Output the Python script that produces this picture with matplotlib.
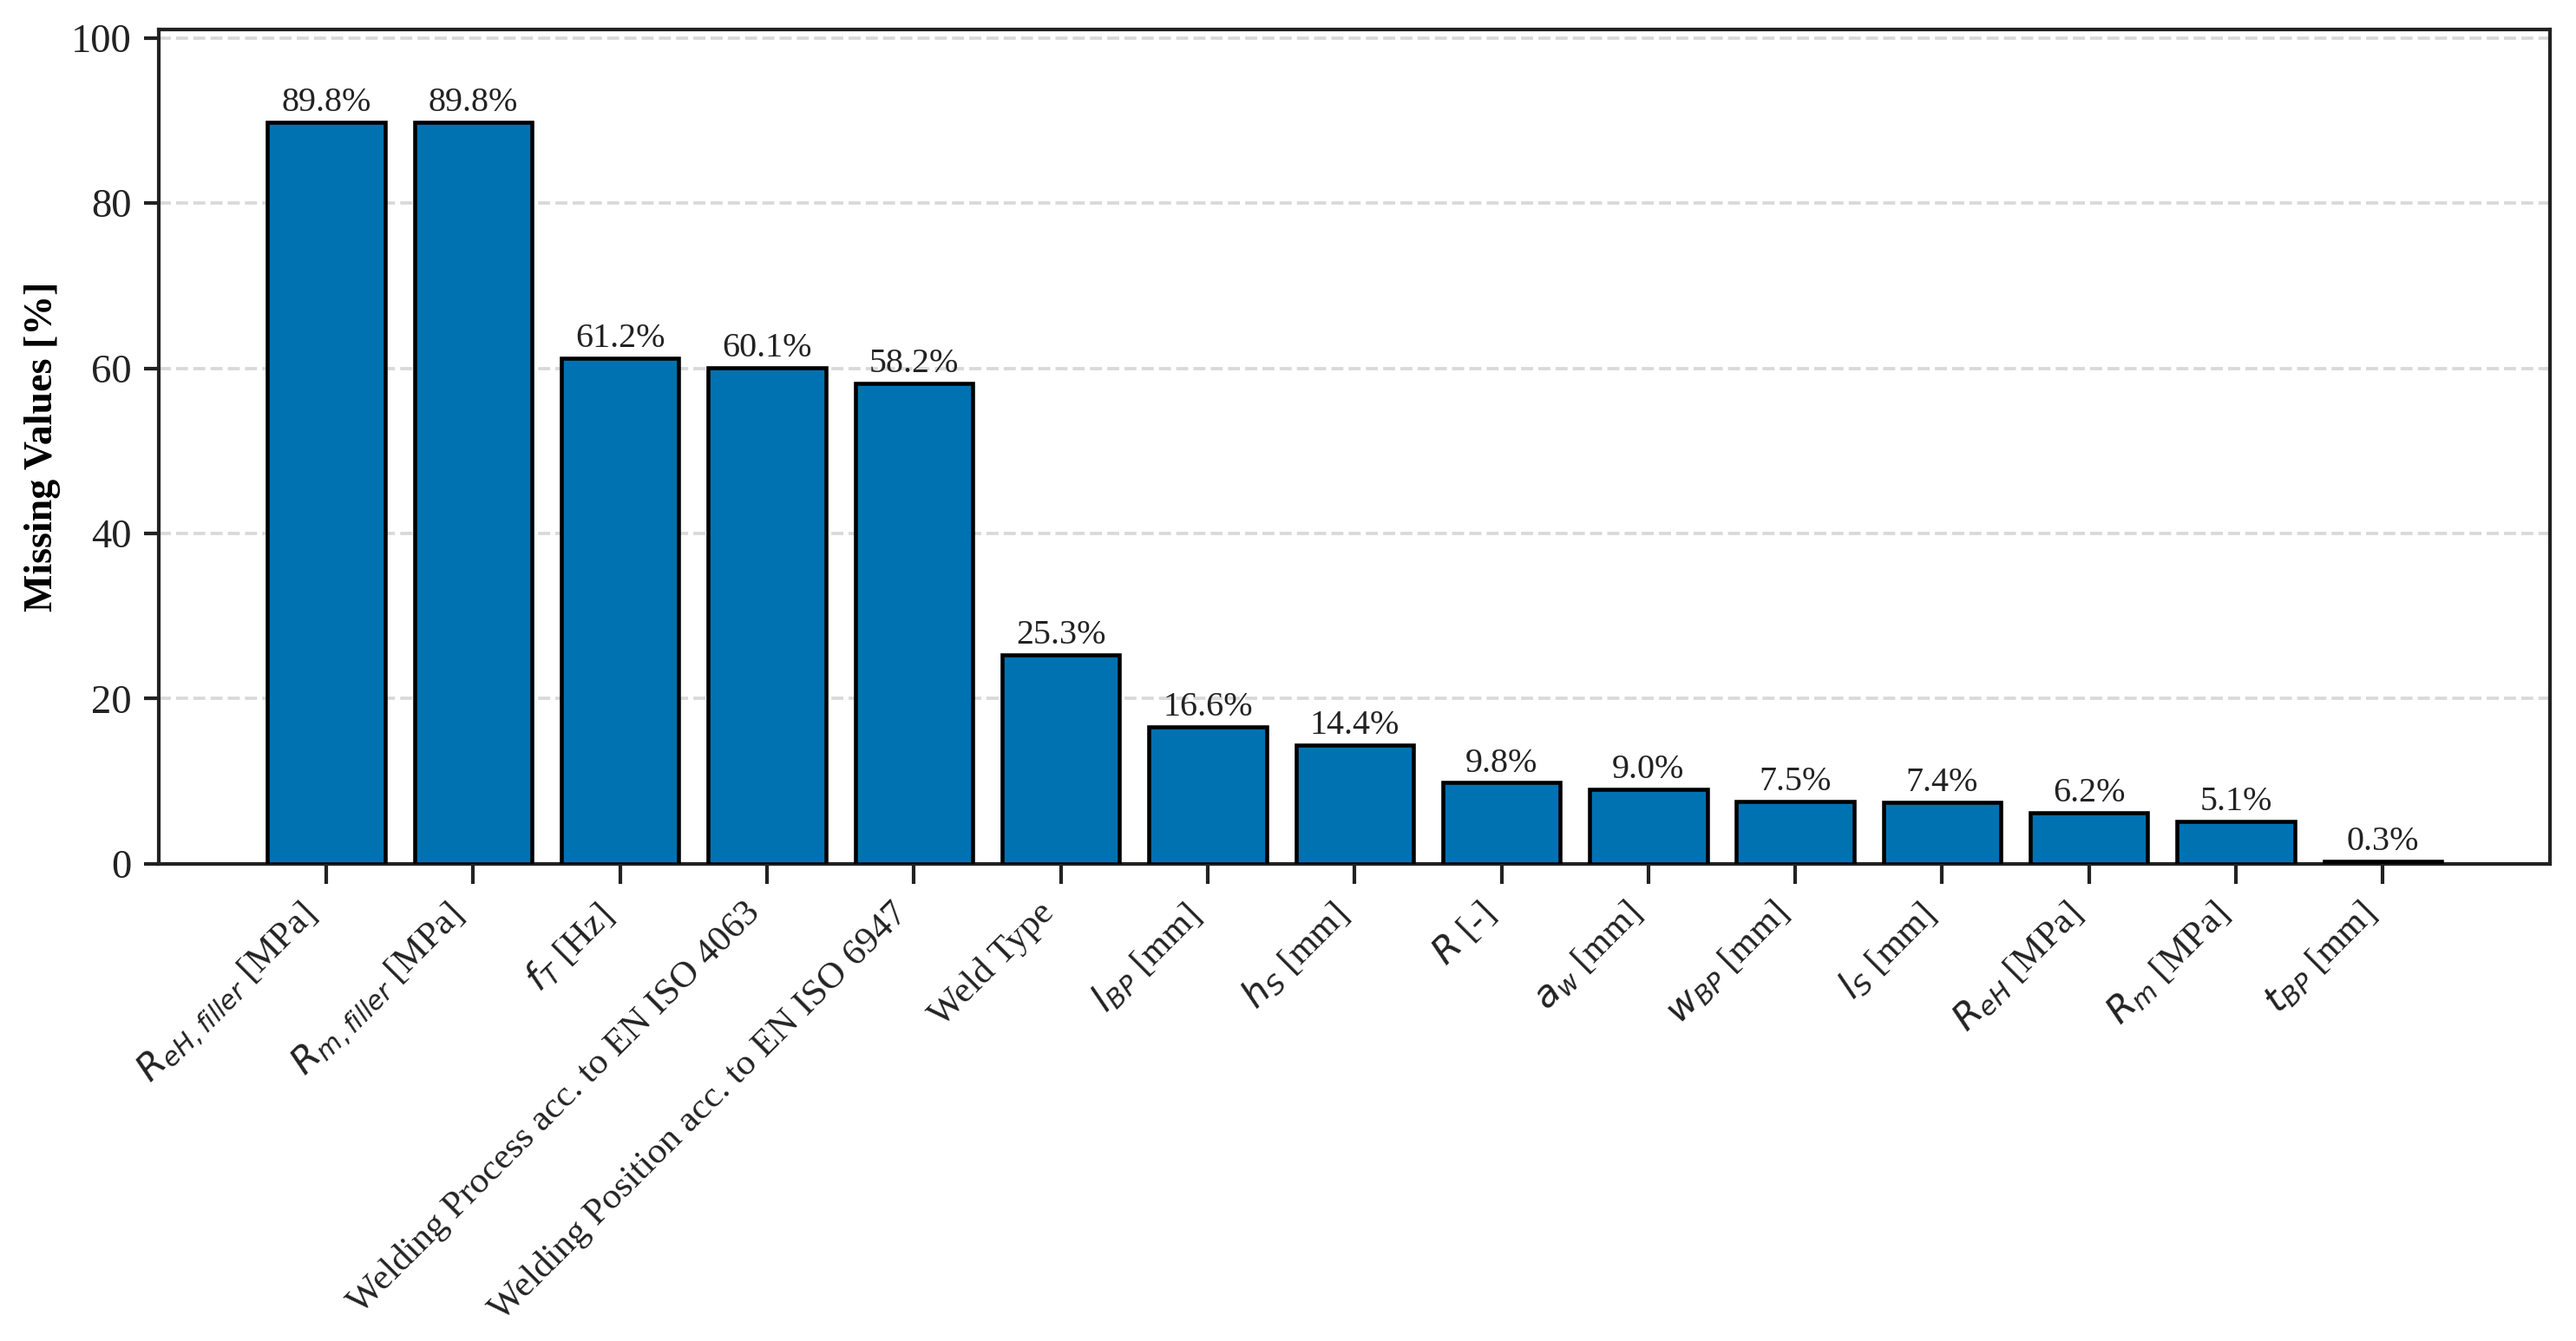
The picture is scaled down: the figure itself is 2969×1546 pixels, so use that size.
import numpy as np
import matplotlib.pyplot as plt

plt.rcParams['font.family'] = ['Liberation Serif', 'DejaVu Serif']
plt.rcParams['mathtext.fontset'] = 'dejavusans'

# missing values per feature
features = [r"$R_{eH,filler}$ [MPa]", r"$R_{m,filler}$ [MPa]", r"$f_T$ [Hz]",
            "Welding Process acc. to EN ISO 4063",
            "Welding Position acc. to EN ISO 6947",
            "Weld Type", r"$l_{BP}$ [mm]", r"$h_S$ [mm]", r"$R$ [-]",
            r"$a_w$ [mm]", r"$w_{BP}$ [mm]", r"$l_S$ [mm]",
            r"$R_{eH}$ [MPa]", r"$R_m$ [MPa]", r"$t_{BP}$ [mm]"]
missing = [89.8, 89.8, 61.2, 60.1, 58.2, 25.3, 16.6, 14.4, 9.8, 9.0, 7.5, 7.4, 6.2, 5.1, 0.3]

fig = plt.figure(figsize=(2969/300, 1546/300), dpi=300)
ax = fig.add_axes([0.0617, 0.356, 0.9283, 0.622])

x = np.arange(len(features))
bars = ax.bar(x, missing, width=0.8, color='#0072B2', edgecolor='black',
              linewidth=1.1, zorder=3)

for b, v in zip(bars, missing):
    ax.text(b.get_x() + b.get_width()/2, v + 0.4, f"{v:.1f}%",
            ha='center', va='bottom', fontsize=9.6, color='#222222')

ax.set_xlim(-1.14, len(features) - 1 + 1.14)
ax.set_ylim(0, max(missing) * 1.125)
ax.set_yticks([0, 20, 40, 60, 80, 100])
ax.set_xticks(x)
ax.set_xticklabels(features, rotation=45, ha='right', fontsize=10.3)
ax.tick_params(axis='y', labelsize=11.2, length=4, width=1, colors='#222222')
ax.tick_params(axis='x', length=5.5, width=1, colors='#222222')
ax.yaxis.grid(True, linestyle='--', color='#d9d9d9', linewidth=0.9, zorder=0)
ax.set_axisbelow(True)
for s in ax.spines.values():
    s.set_color('#222222')
    s.set_linewidth(1.0)

ax.set_ylabel("Missing Values [%]", fontsize=11, fontweight='bold', labelpad=3)

fig.savefig("out.png", dpi=300)
